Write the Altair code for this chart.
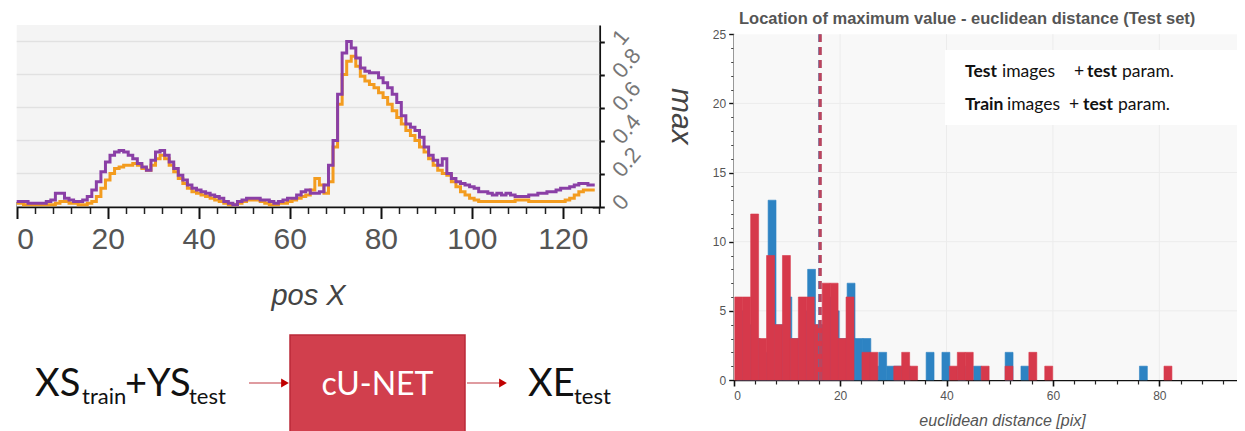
import altair as alt
import pandas as pd

W, H = 1229, 423

# ---------------- line chart data (pos X vs max) ----------------
pos_x = list(range(128))
max_purple = [0.03, 0.03, 0.03, 0.02, 0.02, 0.02, 0.02, 0.03, 0.04, 0.08,
              0.08, 0.05, 0.04, 0.03, 0.03, 0.04, 0.06, 0.10, 0.15, 0.21,
              0.27, 0.31, 0.33, 0.34, 0.33, 0.31, 0.29, 0.26, 0.24, 0.22,
              0.28, 0.33, 0.34, 0.31, 0.27, 0.23, 0.19, 0.16, 0.13, 0.11,
              0.10, 0.09, 0.08, 0.07, 0.06, 0.05, 0.03, 0.02, 0.01, 0.03,
              0.04, 0.05, 0.05, 0.05, 0.04, 0.04, 0.03, 0.02, 0.03, 0.04,
              0.05, 0.05, 0.07, 0.09, 0.10, 0.08, 0.08, 0.09, 0.13, 0.25,
              0.40, 0.68, 0.93, 1.00, 0.96, 0.90, 0.84, 0.82, 0.81, 0.81,
              0.78, 0.75, 0.72, 0.68, 0.63, 0.55, 0.50, 0.48, 0.46, 0.42,
              0.36, 0.31, 0.28, 0.25, 0.29, 0.20, 0.17, 0.15, 0.14, 0.13,
              0.12, 0.11, 0.09, 0.09, 0.08, 0.07, 0.08, 0.07, 0.08, 0.07,
              0.06, 0.06, 0.06, 0.07, 0.07, 0.08, 0.08, 0.09, 0.09, 0.10,
              0.11, 0.11, 0.12, 0.13, 0.14, 0.14, 0.13, 0.13]
max_orange = [0.02, 0.02, 0.01, 0.01, 0.01, 0.01, 0.01, 0.01, 0.01, 0.02,
              0.03, 0.03, 0.02, 0.02, 0.01, 0.01, 0.02, 0.03, 0.06, 0.11,
              0.16, 0.20, 0.23, 0.24, 0.25, 0.25, 0.26, 0.25, 0.23, 0.22,
              0.25, 0.29, 0.31, 0.29, 0.25, 0.21, 0.17, 0.14, 0.11, 0.09,
              0.08, 0.07, 0.06, 0.05, 0.04, 0.03, 0.02, 0.01, 0.01, 0.02,
              0.03, 0.04, 0.04, 0.04, 0.03, 0.02, 0.01, 0.01, 0.02, 0.02,
              0.03, 0.04, 0.05, 0.06, 0.07, 0.10, 0.17, 0.13, 0.08, 0.15,
              0.36, 0.62, 0.80, 0.88, 0.91, 0.85, 0.79, 0.76, 0.74, 0.72,
              0.69, 0.66, 0.62, 0.58, 0.54, 0.50, 0.46, 0.43, 0.40, 0.36,
              0.33, 0.29, 0.25, 0.22, 0.20, 0.19, 0.15, 0.12, 0.09, 0.07,
              0.05, 0.04, 0.03, 0.03, 0.03, 0.03, 0.03, 0.03, 0.03, 0.03,
              0.04, 0.04, 0.04, 0.03, 0.03, 0.03, 0.03, 0.03, 0.03, 0.03,
              0.03, 0.04, 0.05, 0.07, 0.09, 0.10, 0.10, 0.10]
line_x_major = [0, 20, 40, 60, 80, 100, 120]
line_x_minor = [v for v in range(0, 129, 4) if v % 20]
line_y_major = [0, 0.2, 0.4, 0.6, 0.8, 1.0]
line_y_minor = [round(i * 0.04, 2) for i in range(28) if i % 5]
line_y_grid = [0.2, 0.4, 0.6, 0.8, 1.0]

# ---------------- histogram data ----------------
red_counts = [6, 6, 12, 3, 9, 4, 9, 3, 6, 6,
              4, 7, 7, 3, 6, 0, 2, 2, 0, 0,
              1, 2, 1, 0, 0, 0, 0, 1, 2, 2,
              0, 1, 0, 0, 1, 0, 0, 2, 0, 1,
              0, 0, 0, 0, 0, 0, 0, 0, 0, 0,
              0, 0, 0, 0, 1]
blue_counts = [5, 4, 3, 2, 13, 4, 6, 3, 5, 8,
               4, 6, 5, 3, 7, 3, 3, 1, 2, 1,
               1, 1, 0, 0, 2, 0, 2, 0, 1, 0,
               1, 0, 0, 0, 2, 0, 1, 0, 0, 0,
               0, 0, 0, 0, 0, 0, 0, 0, 0, 0,
               0, 1]
red_lo, red_w = 0.2, 1.494
blue_lo, blue_w = 0.53, 1.485
mean_blue, mean_red = 16.2, 16.25
hist_x_major = [0, 20, 40, 60, 80]
hist_x_minor = [v for v in range(0, 96, 4) if v % 20]
hist_y_major = [0, 5, 10, 15, 20, 25]
hist_y_minor = [v for v in range(26) if v % 5]
hist_grid_x = [20, 40, 60, 80]
hist_grid_y = [5, 10, 15, 20]

ONE = pd.DataFrame({"k": [0]})


def bins(lo, w, counts):
    rows = [{"start": lo + i * w, "end": lo + (i + 1) * w, "count": c}
            for i, c in enumerate(counts) if c > 0]
    return pd.DataFrame(rows)


def txt(s, x, y, **kw):
    return alt.Chart(ONE).mark_text(text=s, **kw).encode(x=alt.value(x), y=alt.value(y))


# ================= LEFT: line chart =================
LX0, LX1, LY0, LY1 = 8.7, 591.3, 198.5, 17
lx = alt.Scale(domain=[0, 128], range=[LX0, LX1], nice=False, zero=False)
ly = alt.Scale(domain=[0, 1.1], range=[LY0, LY1], nice=False)
line_df = pd.DataFrame({"x": pos_x, "purple": max_purple, "orange": max_orange})
LX_OFF = LY0 - H
LY_OFF = LX1 - W

# background; also carries the inward half of the major x ticks
l_bg = alt.Chart(ONE).mark_rect(color="#f4f4f4").encode(
    x=alt.X(datum=0, scale=lx, axis=alt.Axis(
        orient="top", offset=-LY0, values=line_x_major, labels=False, domain=False,
        tickSize=5, tickColor="#111", tickWidth=2, title=None, grid=False)),
    x2=alt.datum(128),
    y=alt.Y(datum=0, scale=ly, axis=None), y2=alt.datum(1.1))
# horizontal grid; also carries the inward half of the major y ticks
l_grid = alt.Chart(pd.DataFrame({"g": line_y_grid})).mark_rule(color="#e1e1e1", strokeWidth=1.5).encode(
    y=alt.Y("g:Q", scale=ly, axis=alt.Axis(
        orient="left", offset=-LX1, values=line_y_major, labels=False, domain=False,
        tickSize=7, tickColor="#111", tickWidth=2, title=None, grid=False)),
    x=alt.X(datum=0, scale=lx, axis=None), x2=alt.datum(128))
l_orange = alt.Chart(line_df).mark_line(interpolate="step", color="#f39c1f", strokeWidth=3).encode(
    x=alt.X("x:Q", scale=lx, axis=alt.Axis(
        orient="bottom", offset=LX_OFF, values=line_x_minor, labels=False, domain=False,
        tickSize=7, tickColor="#222", tickWidth=1.5, title=None, grid=False)),
    y=alt.Y("orange:Q", scale=ly, axis=alt.Axis(
        orient="left", offset=-LX1, values=line_y_minor, labels=False, domain=False,
        tickSize=4, tickColor="#222", tickWidth=1.2, title=None, grid=False)))
l_purple = alt.Chart(line_df).mark_line(interpolate="step", color="#8a3fa6", strokeWidth=3).encode(
    x=alt.X("x:Q", scale=lx, axis=alt.Axis(
        orient="bottom", offset=LX_OFF, values=line_x_major, format="d", grid=False,
        domainColor="#111", domainWidth=2.5, tickColor="#111", tickWidth=2, tickSize=12,
        labelFont="Liberation Sans", labelFontSize=30, labelColor="#555", labelPadding=6,
        labelOverlap=False,
        title="pos X", titleFont="Liberation Sans", titleFontSize=29, titleFontStyle="italic",
        titleFontWeight="normal", titleColor="#444", titleBaseline="alphabetic", titleY=98)),
    y=alt.Y("purple:Q", scale=ly, axis=alt.Axis(
        orient="right", offset=LY_OFF, values=line_y_major, format="~g", grid=False,
        domainColor="#111", domainWidth=2.5, tickColor="#111", tickWidth=2, tickSize=5,
        labelFont="Liberation Sans", labelFontSize=22, labelColor="#777", labelAngle=310,
        labelAlign="left", labelBaseline="middle", labelPadding=12, labelOverlap=False,
        labelBound=False, labelFlush=False,
        title="max", titleFont="Liberation Sans", titleFontSize=30, titleFontStyle="italic",
        titleFontWeight="normal", titleColor="#444", titleAngle=90, titleAlign="center",
        titleBaseline="middle", titleX=81)))
line_group = alt.layer(l_bg, l_grid, l_orange, l_purple).resolve_axis(x="independent", y="independent")

# ================= RIGHT: histogram =================
hx = alt.Scale(domain=[0, 94.6], range=[725.7, 1229], nice=False, zero=False)
hy = alt.Scale(domain=[0, 25], range=[372, 26.2], nice=False)
HX_OFF = 372 - H
HY_OFF = -725.7
RED, BLUE = "#d6394b", "#2d83c3"

h_bg = alt.Chart(ONE).mark_rect(color="#f8f8f8").encode(
    x=alt.X(datum=0, scale=hx, axis=None), x2=alt.datum(94.6),
    y=alt.Y(datum=0, scale=hy, axis=None), y2=alt.datum(25))
h_gx = alt.Chart(pd.DataFrame({"g": hist_grid_x})).mark_rule(color="#ececec").encode(
    x=alt.X("g:Q", scale=hx, axis=None),
    y=alt.Y(datum=0, scale=hy, axis=None), y2=alt.datum(25))
h_gy = alt.Chart(pd.DataFrame({"g": hist_grid_y})).mark_rule(color="#ececec").encode(
    y=alt.Y("g:Q", scale=hy, axis=None),
    x=alt.X(datum=0, scale=hx, axis=None), x2=alt.datum(94.6))
h_blue = alt.Chart(bins(blue_lo, blue_w, blue_counts)).mark_rect(
    color=BLUE, stroke=BLUE, strokeWidth=0.6).encode(
    x=alt.X("start:Q", scale=hx, axis=alt.Axis(
        orient="bottom", offset=HX_OFF, values=hist_x_major, format="d", grid=False,
        domainColor="#111", domainWidth=1.6, tickColor="#111", tickWidth=1.6, tickSize=6,
        labelFont="Liberation Sans", labelFontSize=12, labelColor="#555", labelPadding=4,
        title="euclidean distance [pix]", titleFont="Liberation Sans", titleFontSize=16,
        titleFontStyle="italic", titleFontWeight="normal", titleColor="#555",
        titleBaseline="middle", titleX=994, titleY=40)),
    x2="end:Q",
    y=alt.Y("count:Q", scale=hy, axis=alt.Axis(
        orient="left", offset=HY_OFF, values=hist_y_major, format="d", grid=False,
        domainColor="#111", domainWidth=1.6, tickColor="#111", tickWidth=1.4, tickSize=5,
        labelFont="Liberation Sans", labelFontSize=12, labelColor="#555", labelPadding=3,
        title=None)),
    y2=alt.datum(0))
h_red = alt.Chart(bins(red_lo, red_w, red_counts)).mark_rect(
    color=RED, stroke=RED, strokeWidth=0.6).encode(
    x=alt.X("start:Q", scale=hx, axis=alt.Axis(
        orient="bottom", offset=HX_OFF, values=hist_x_minor, labels=False, domain=False,
        tickColor="#222", tickWidth=1.2, tickSize=4, title=None, grid=False)),
    x2="end:Q",
    y=alt.Y("count:Q", scale=hy, axis=alt.Axis(
        orient="left", offset=HY_OFF, values=hist_y_minor, labels=False, domain=False,
        tickColor="#444", tickWidth=1, tickSize=3, title=None, grid=False)),
    y2=alt.datum(0))
h_mean_b = alt.Chart(pd.DataFrame({"m": [mean_blue]})).mark_rule(
    color=BLUE, strokeWidth=3.2, strokeDash=[8, 5]).encode(
    x=alt.X("m:Q", scale=hx, axis=None),
    y=alt.Y(datum=0, scale=hy, axis=None), y2=alt.datum(25))
h_mean_r = alt.Chart(pd.DataFrame({"m": [mean_red]})).mark_rule(
    color=RED, strokeWidth=3.2, strokeDash=[8, 5], opacity=0.85).encode(
    x=alt.X("m:Q", scale=hx, axis=None),
    y=alt.Y(datum=0, scale=hy, axis=None), y2=alt.datum(25))

LEG = dict(font="Lato", fontSize=17.5, color="#111", align="left", baseline="middle")
legend_box = alt.Chart(ONE).mark_rect(color="white").encode(
    x=alt.value(937), x2=alt.value(1229), y=alt.value(42), y2=alt.value(117))
legend = [
    txt("Test", 957, 64, fontWeight="bold", **LEG),
    txt("images", 994, 64, **LEG),
    txt("+", 1066, 64, **LEG),
    txt("test", 1079, 64, fontWeight="bold", **LEG),
    txt("param.", 1114, 64, **LEG),
    txt("Train", 957, 97, fontWeight="bold", **LEG),
    txt("images", 999, 97, **LEG),
    txt("+", 1061, 97, **LEG),
    txt("test", 1075, 97, fontWeight="bold", **LEG),
    txt("param.", 1110, 97, **LEG),
]
h_title = txt("Location of maximum value - euclidean distance  (Test set)", 731, 11,
              font="Liberation Sans", fontSize=16.5, fontWeight="bold", color="#555",
              align="left", baseline="middle")

hist_group = alt.layer(h_bg, h_gx, h_gy, h_blue, h_red, h_mean_b, h_mean_r,
                       legend_box, *legend, h_title).resolve_axis(x="independent", y="independent")

# ================= BOTTOM-LEFT: diagram =================
BIG = dict(font="Lato", fontSize=38, color="#111", align="left", baseline="alphabetic")
SUB = dict(font="Lato", fontSize=22, color="#111", align="left", baseline="alphabetic")
diagram = [
    txt("XS", 27, 388, **BIG),
    txt("train", 74, 396, **SUB),
    txt("+YS", 117, 388, **BIG),
    txt("test", 181, 396, **SUB),
    alt.Chart(ONE).mark_rule(color="#d57a80", strokeWidth=1.5).encode(
        x=alt.value(241), x2=alt.value(277), y=alt.value(375)),
    alt.Chart(ONE).mark_point(shape="triangle-right", filled=True, size=80, color="#c00000", opacity=1).encode(
        x=alt.value(277), y=alt.value(375)),
    alt.Chart(ONE).mark_rect(color="#d13f4d", stroke="#bb2a38", strokeWidth=1.5).encode(
        x=alt.value(282), x2=alt.value(457), y=alt.value(327), y2=alt.value(440)),
    txt("cU-NET", 369.5, 377, font="Lato", fontSize=32, color="white", align="center", baseline="middle"),
    alt.Chart(ONE).mark_rule(color="#d57a80", strokeWidth=1.5).encode(
        x=alt.value(459), x2=alt.value(494), y=alt.value(375)),
    alt.Chart(ONE).mark_point(shape="triangle-right", filled=True, size=80, color="#c00000", opacity=1).encode(
        x=alt.value(495), y=alt.value(375)),
    txt("XE", 520, 388, **BIG),
    txt("test", 566, 396, **SUB),
]

chart = alt.layer(line_group, hist_group, *diagram).resolve_scale(
    x="independent", y="independent"
).properties(
    width=W, height=H, padding=0, autosize=alt.AutoSizeParams(type="none")
).configure_view(stroke=None)

chart.save("out.html", embed_options={"renderer": "svg", "actions": False})
